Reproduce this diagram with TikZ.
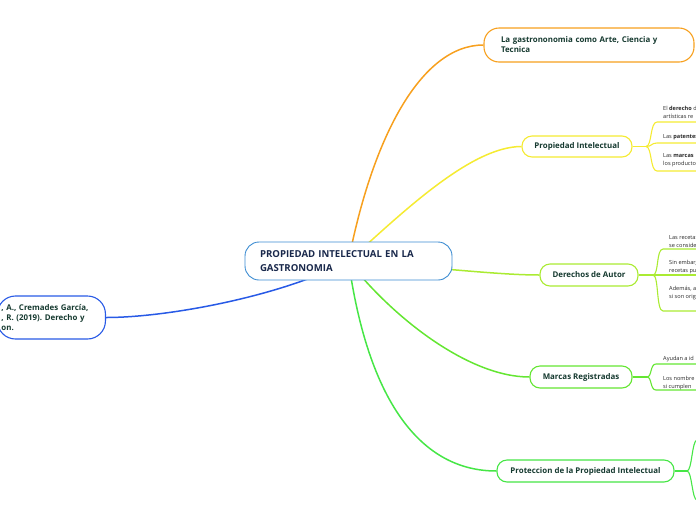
\documentclass[tikz,border=0pt]{standalone}
\usepackage{fontspec}
\setmainfont{Open Sans}
\usetikzlibrary{backgrounds}
\definecolor{txt}{RGB}{22,58,48}
\definecolor{ctxt}{RGB}{25,40,75}
\definecolor{cblue}{RGB}{60,140,210}
\definecolor{corange}{RGB}{247,160,30}
\definecolor{cyellow}{RGB}{245,235,50}
\definecolor{clime}{RGB}{170,235,50}
\definecolor{cgreen}{RGB}{100,230,50}
\definecolor{cbright}{RGB}{70,230,70}
\definecolor{cleft}{RGB}{40,90,230}
\definecolor{smalltxt}{RGB}{40,40,40}
\frenchspacing
\begin{document}
\begin{tikzpicture}[x=1pt,y=-1pt,
 box/.style={draw, fill=white, line width=1.1pt, rounded corners=10pt, inner sep=0pt, text=txt, font=\bfseries\fontsize{7.9}{10}\selectfont},
 conn/.style={line width=1.5pt},
 sub/.style={line width=1.1pt},
 lbl/.style={anchor=base west, inner sep=0pt, text=smalltxt, font=\fontsize{5.6}{8}\selectfont}]
\useasboundingbox (0,0) rectangle (696,520);
\clip (0,0) rectangle (696,520);

% central
\node[box, draw=cblue, line width=0.9pt, rounded corners=14pt, minimum width=207pt, minimum height=38pt, text width=177pt, align=left, text=ctxt, font=\bfseries\fontsize{9.6}{13.5}\selectfont] (c) at (348.5,261) {PROPIEDAD INTELECTUAL EN LA\\GASTRONOMIA};

% main topics
\node[box, draw=corange, rounded corners=15pt, minimum width=210pt, minimum height=34pt, text width=176pt, align=left] (t) at (589,45) {La gastrononomia como Arte, Ciencia y\\Tecnica};
\node[box, draw=cyellow, minimum width=110pt, minimum height=21pt] (p) at (577,146.5) {Propiedad Intelectual};
\node[box, draw=clime, minimum width=98pt, minimum height=22pt] (d) at (589,275) {Derechos de Autor};
\node[box, draw=cgreen, minimum width=102pt, minimum height=22pt] (m) at (581,377) {Marcas Registradas};
\node[box, draw=cbright, minimum width=177pt, minimum height=22pt] (pr) at (585.5,471) {Proteccion de la Propiedad Intelectual};
\node[box, draw=cleft, rounded corners=18pt, minimum width=108pt, minimum height=43pt, text width=100pt, align=left, anchor=east] (l) at (106,317.5) {, A., Cremades García,\\, R. (2019). Derecho y\\on.};

% labels
\node[lbl] (p1a) at (663,110) {El \textbf{derecho} de};
\node[lbl] (p1b) at (663,118) {artísticas re};
\node[lbl] (p2a) at (663,138) {Las \textbf{patentes}};
\node[lbl] (p3a) at (663,157) {Las \textbf{marcas}};
\node[lbl] (p3b) at (663,165) {los productos};

\node[lbl] (d1a) at (669,239) {Las recetas};
\node[lbl] (d1b) at (669,247) {se consider};
\node[lbl] (d2a) at (669,264) {Sin embargo};
\node[lbl] (d2b) at (669,272) {recetas pu};
\node[lbl] (d3a) at (669,290) {Además, a};
\node[lbl] (d3b) at (669,298) {si son orig};

\node[lbl] (m1a) at (663,360) {Ayudan a id};
\node[lbl] (m2a) at (663,380) {Los nombre};
\node[lbl] (m2b) at (663,388) {si cumplen};

% coordinates for branch ends
\coordinate (pb) at (646,146.5);
\coordinate (p1) at (657,122); \coordinate (p1e) at (700,122);
\coordinate (p2) at (657,143); \coordinate (p2e) at (700,143);
\coordinate (p3) at (657,171); \coordinate (p3e) at (700,171);
\coordinate (db) at (653,275);
\coordinate (d1) at (663,249); \coordinate (d1e) at (700,249);
\coordinate (d2) at (663,275); \coordinate (d2e) at (700,275);
\coordinate (d3) at (663,311); \coordinate (d3e) at (700,311);
\coordinate (mb) at (647,377);
\coordinate (m1) at (656,364); \coordinate (m1e) at (700,364);
\coordinate (m2) at (656,390); \coordinate (m2e) at (700,390);
\coordinate (rb) at (687,471);
\coordinate (r1) at (697,440);
\coordinate (r2) at (697,500);

\begin{scope}[on background layer]
\draw[conn, corange] (c.center) .. controls (372,140) and (420,45) .. (t.west);
\draw[conn, cyellow] (c.center) .. controls (400,215) and (470,146.5) .. (p.west);
\draw[conn, clime] (c.center) .. controls (440,268) and (500,275) .. (d.west);
\draw[conn, cgreen] (c.center) .. controls (395,320) and (470,377) .. (m.west);
\draw[conn, cbright] (c.center) .. controls (368,400) and (420,471) .. (pr.west);
\draw[conn, cleft] (c.center) .. controls (285,295) and (170,317.5) .. (l.east);

\draw[sub, cyellow] (p.east) -- (pb);
\draw[sub, cyellow] (pb) .. controls (652,146.5) and (650,122) .. (p1) -- (p1e);
\draw[sub, cyellow] (pb) .. controls (652,146.5) and (651,143) .. (p2) -- (p2e);
\draw[sub, cyellow] (pb) .. controls (652,146.5) and (650,171) .. (p3) -- (p3e);

\draw[sub, clime] (d.east) -- (db);
\draw[sub, clime] (db) .. controls (659,275) and (656,249) .. (d1) -- (d1e);
\draw[sub, clime] (db) -- (d2) -- (d2e);
\draw[sub, clime] (db) .. controls (659,275) and (656,311) .. (d3) -- (d3e);

\draw[sub, cgreen] (m.east) -- (mb);
\draw[sub, cgreen] (mb) .. controls (652,377) and (650,364) .. (m1) -- (m1e);
\draw[sub, cgreen] (mb) .. controls (652,377) and (650,390) .. (m2) -- (m2e);

\draw[sub, cbright] (pr.east) -- (rb);
\draw[sub, cbright] (rb) .. controls (692,471) and (692,440) .. (r1);
\draw[sub, cbright] (rb) .. controls (692,471) and (692,500) .. (r2);
\end{scope}
\end{tikzpicture}
\end{document}
